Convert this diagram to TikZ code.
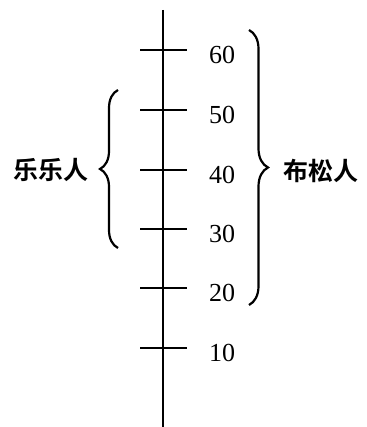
\documentclass[tikz,border=0pt]{standalone}
\usepackage{fontspec}
\setmainfont{Liberation Serif}
\newfontfamily\cjk{Noto Sans CJK SC Bold}
\usetikzlibrary{decorations.pathreplacing}
\begin{document}
\begin{tikzpicture}[x=1pt,y=1pt,
  axisline/.style={line width=2pt},
  tickline/.style={line width=2.4pt},
  bracestyle/.style={line width=2.2pt,decorate,decoration={brace,amplitude=#1}},
  numlabel/.style={font=\fontsize{26}{28}\selectfont,anchor=center},
  grouplabel/.style={font=\cjk\fontsize{25}{28}\selectfont,anchor=center}]
\useasboundingbox (0,0) rectangle (366,427);
% axis
\coordinate (atop) at (163,417);
\coordinate (abot) at (163,0);
\draw[axisline] (atop) -- (abot);
% ticks and labels
\foreach \v/\y in {10/79,20/139,30/198,40/257,50/317,60/377}{
  \coordinate (tl\v) at (140,\y);
  \coordinate (tr\v) at (187,\y);
  \draw[tickline] (tl\v) -- (tr\v);
  \node[numlabel] (n\v) at (222,\y-5) {\v};
}
% left brace
\coordinate (lb1) at (118,179);
\coordinate (lb2) at (118,337);
\draw[bracestyle=18pt] (lb1) -- (lb2);
\node[grouplabel] (lele) at (51,257) {乐乐人};
% right brace
\coordinate (rb1) at (249,397);
\coordinate (rb2) at (249,122);
\draw[bracestyle=19pt] (rb1) -- (rb2);
\node[grouplabel] (busong) at (321,256) {布松人};
\end{tikzpicture}
\end{document}
